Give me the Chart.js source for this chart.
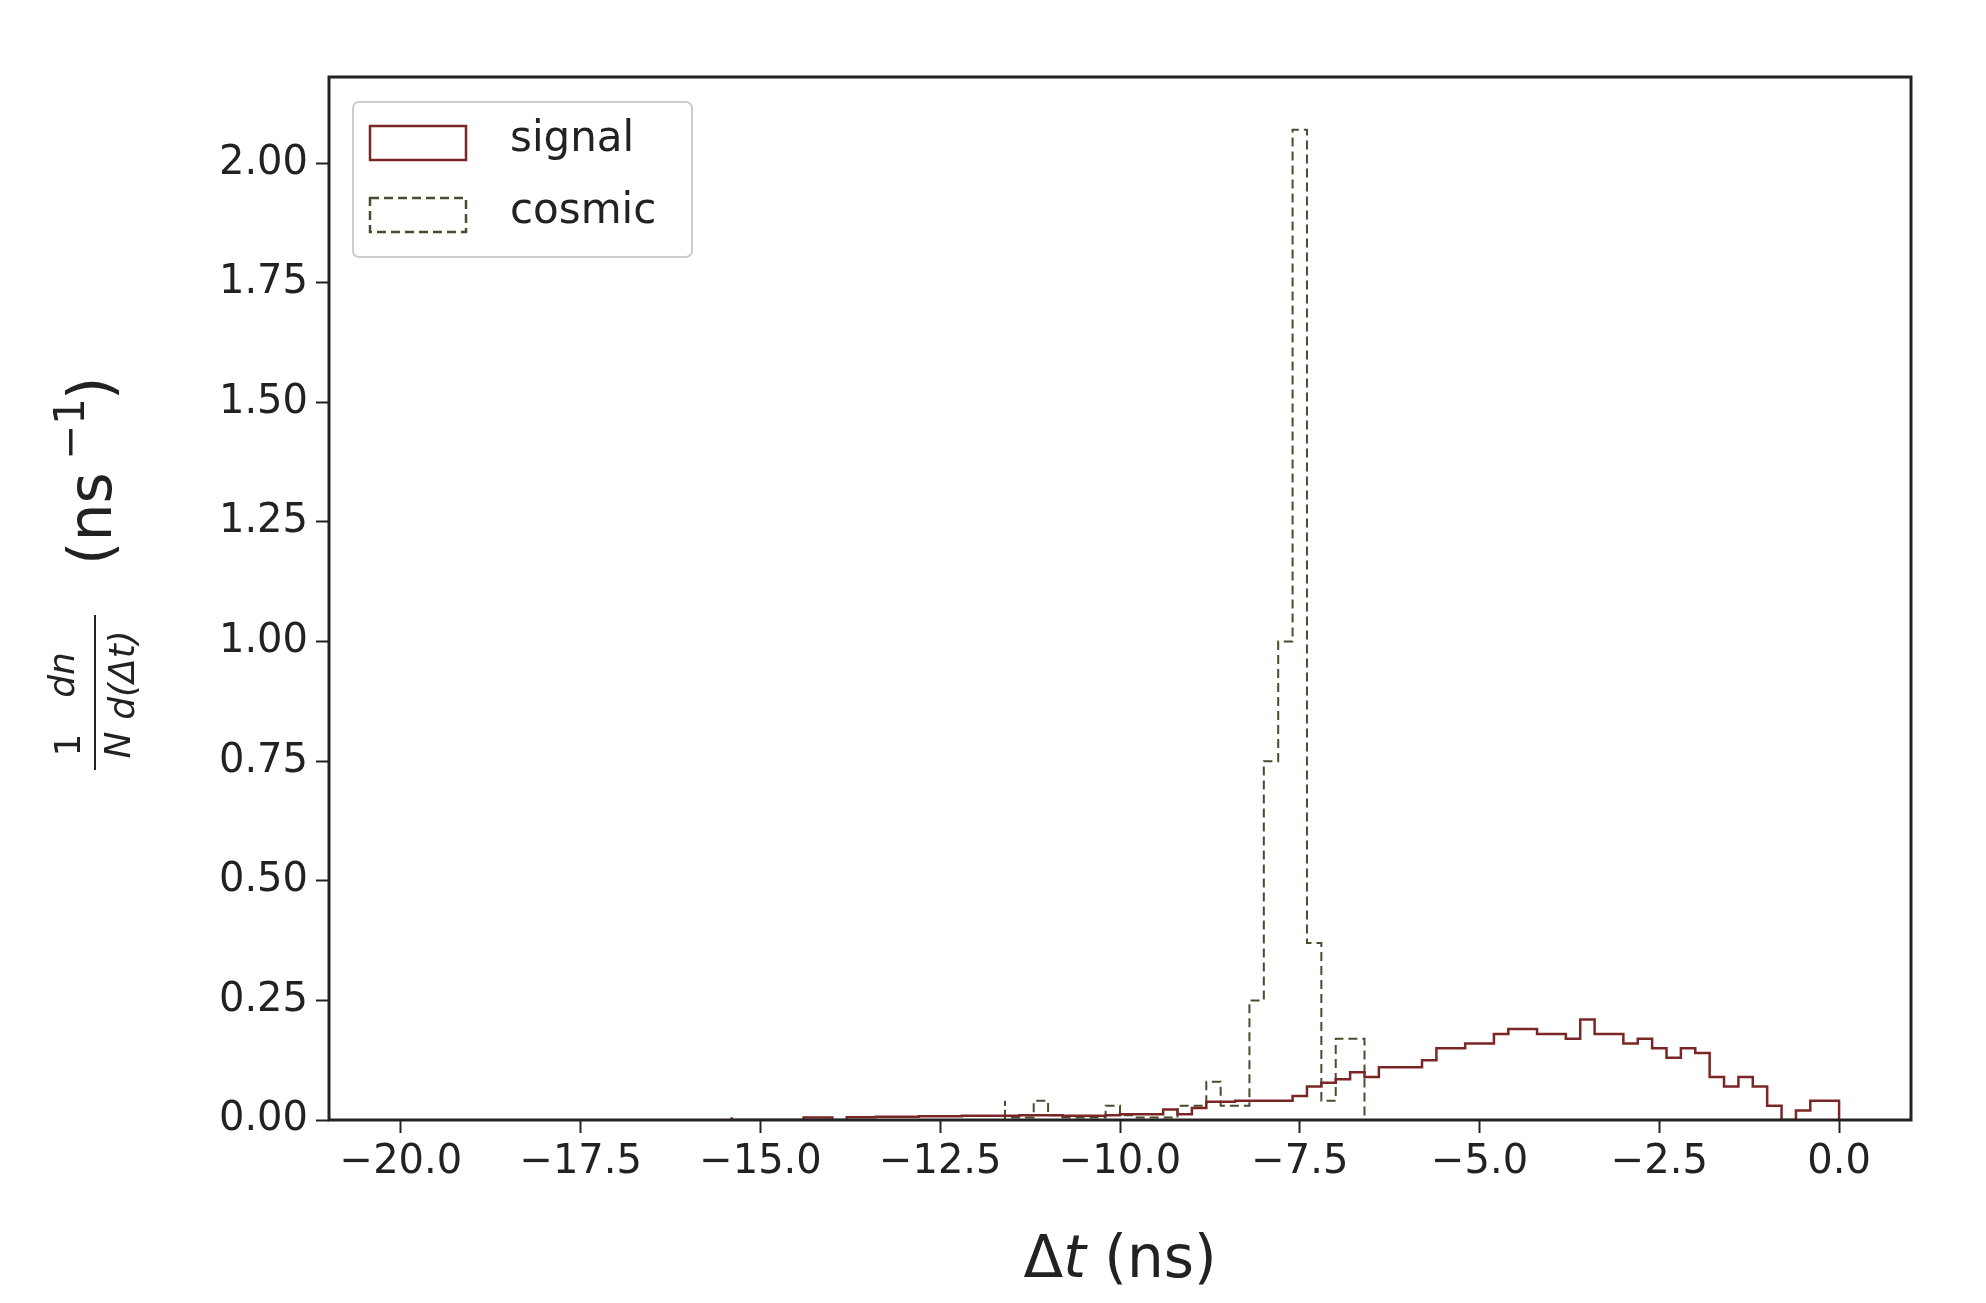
<!DOCTYPE html>
<html><head><meta charset="utf-8">
<script src="https://cdn.jsdelivr.net/npm/chart.js@4/dist/chart.umd.min.js"></script>
<style>html,body{margin:0;background:#fff}#w{width:1986px;height:1303px}</style>
</head><body><div id="w"><canvas id="c"></canvas></div>
<script>
const binWidth = 0.2;
const signalStart = -15.4;
const signalValues = [0.006,0,0,0,0,0,0.005,0.005,0,
 0.006,0.006,0.007,0.007,0.007,0.008,0.008,0.008,0.009,0.009,0.009,0.009,0.01,0.01,0.01,0.009,0.009,0.009,0.01,
 0.012,0.012,0.012,0.022,0.012,0.025,0.038,0.038,0.04,0.04,0.04,0.04,0.05,0.07,0.078,0.085,0.1,0.09,0.11,0.11,0.11,0.125,
 0.15,0.15,0.16,0.16,0.18,0.19,0.19,0.18,0.18,0.17,0.21,0.18,0.18,0.16,0.17,0.15,0.13,0.15,0.14,0.09,
 0.07,0.09,0.07,0.03,0.0,0.02,0.04];
const cosmicStart = -11.6;
const cosmicValues = [0.04,0.005,0.005,0.04,0.01,0.005,0.005,0.005,0.03,0.01,0.005,0.005,0.005,0.03,0.03,0.08,0.03,0.03,0.25,0.75,1.0,2.07,0.37,0.04,0.17];
const xTicks = [-20,-17.5,-15,-12.5,-10,-7.5,-5,-2.5,0];
const yTicks = [0,0.25,0.5,0.75,1.0,1.25,1.5,1.75,2.0];
const labels = ['signal','cosmic'];

function histPoints(start, vals){
  const pts=[{x:start,y:0}];
  vals.forEach((v,i)=>pts.push({x:start+i*binWidth,y:v}));
  const end=start+vals.length*binWidth;
  pts.push({x:end,y:vals[vals.length-1]});
  pts.push({x:end,y:0});
  return pts;
}
const sigColor='#7b2626', cosColor='#4d4a2e';
const FONT='"DejaVu Sans", sans-serif';
const frame={id:'frame',afterDraw(ch){
  const c=ch.ctx,a=ch.chartArea;
  c.save();c.strokeStyle='#222';c.lineWidth=3;c.strokeRect(a.left,a.top,a.right-a.left,a.bottom-a.top);
  const lx=353,ly=102;
  c.strokeStyle='#ccc';c.lineWidth=2;
  c.beginPath();c.roundRect(lx,ly,339,155,6);c.stroke();
  c.lineWidth=2.5;c.strokeStyle=sigColor;c.strokeRect(lx+17,ly+24,96,34);
  c.strokeStyle=cosColor;c.setLineDash([9,5]);c.strokeRect(lx+17,ly+96,96,34);c.setLineDash([]);
  c.fillStyle='#222';c.font='42px '+FONT;c.textBaseline='middle';
  c.fillText(labels[0],lx+157,ly+38);c.fillText(labels[1],lx+157,ly+110);
  // x title
  c.textAlign='left';c.font='58px '+FONT;
  const t1='Δ',t2='t',t3=' (ns)';
  c.font='58px '+FONT;const w1=c.measureText(t1).width,w3=c.measureText(t3).width;
  c.font='italic 58px '+FONT;const w2=c.measureText(t2).width;
  let x0=(a.left+a.right)/2-(w1+w2+w3)/2, yT=1262;
  c.font='58px '+FONT;c.fillText(t1,x0,yT);
  c.font='italic 58px '+FONT;c.fillText(t2,x0+w1,yT);
  c.font='58px '+FONT;c.fillText(t3,x0+w1+w2,yT);
  // y title
  c.translate(95,560);c.rotate(-Math.PI/2);
  c.textAlign='center';c.font='36px '+FONT;
  c.fillText('1',-185,-24);
  c.font='italic 36px '+FONT;c.fillText('dn',-115,-30);
  c.fillText('N',-185,26);c.fillText('d(Δt)',-115,30);
  c.lineWidth=2;c.strokeStyle='#222';c.beginPath();c.moveTo(-210,0);c.lineTo(-55,0);c.stroke();
  c.font='60px '+FONT;c.textAlign='left';c.fillText('(ns',-5,0);
  c.font='42px '+FONT;c.fillText('−1',100,-22);
  c.font='60px '+FONT;c.fillText(')',160,0);
  c.restore();
}};
new Chart(document.getElementById('c'),{
  type:'line',
  data:{datasets:[
    {label:labels[0],data:histPoints(signalStart,signalValues),stepped:'after',borderColor:sigColor,borderWidth:2.5,pointRadius:0,fill:false},
    {label:labels[1],data:histPoints(cosmicStart,cosmicValues),stepped:'after',borderColor:cosColor,borderWidth:2,borderDash:[9,5],pointRadius:0,fill:false}
  ]},
  options:{responsive:true,maintainAspectRatio:false,animation:false,
    layout:{padding:{top:77,right:75,left:0,bottom:0}},
    plugins:{legend:{display:false},tooltip:{enabled:false}},
    scales:{
      x:{type:'linear',min:-21,max:1,
        afterBuildTicks(ax){ax.ticks=xTicks.map(v=>({value:v}));},
        afterFit(ax){ax.height=183;},
        grid:{drawOnChartArea:false,drawTicks:true,tickLength:13,tickColor:'#222',tickWidth:2},
        border:{display:false},
        ticks:{color:'#222',font:{family:FONT,size:40},padding:6,maxRotation:0,callback:v=>(v<0?'−':'')+Math.abs(v).toFixed(1)}},
      y:{min:0,max:2.18,
        afterBuildTicks(ax){ax.ticks=yTicks.map(v=>({value:v}));},
        afterFit(ax){ax.width=329;},
        grid:{drawOnChartArea:false,drawTicks:true,tickLength:13,tickColor:'#222',tickWidth:2},
        border:{display:false},
        ticks:{color:'#222',font:{family:FONT,size:40},padding:8,callback:v=>v.toFixed(2)}}
    }
  },
  plugins:[frame]
});
</script></body></html>
